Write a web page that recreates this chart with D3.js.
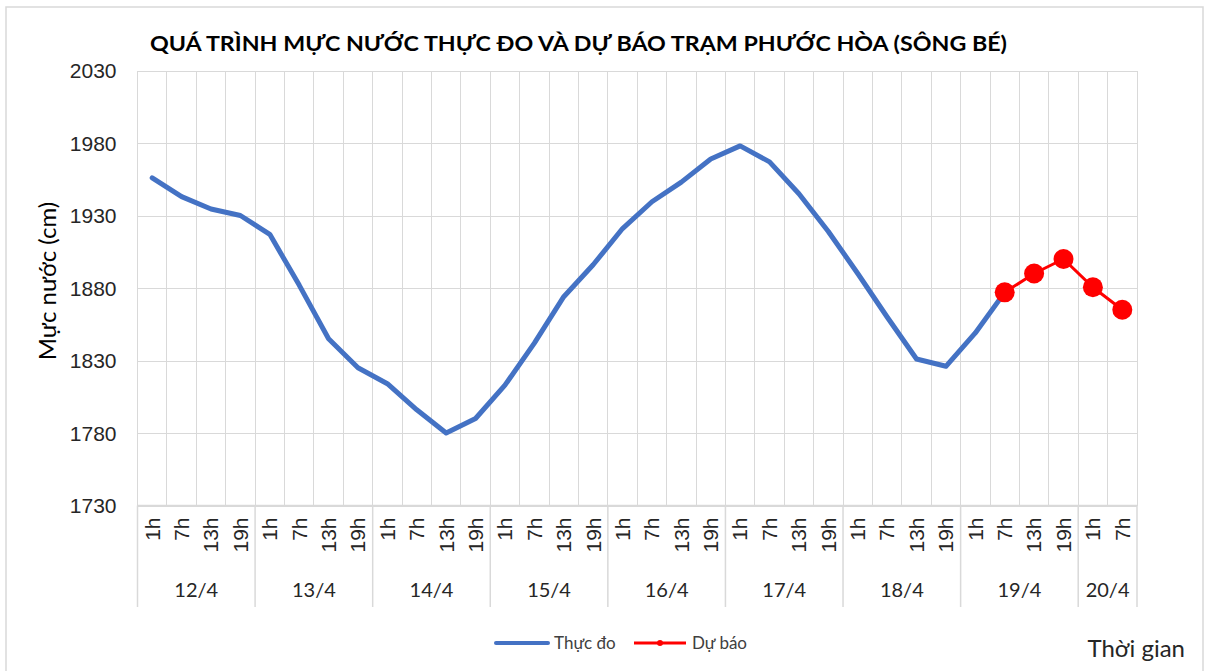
<!DOCTYPE html>
<html>
<head>
<meta charset="utf-8">
<script src="https://cdn.jsdelivr.net/npm/d3@7"></script>
<style>
  body { margin: 0; background: #fff; }
  svg { display: block; font-family: Lato, "Noto Sans", sans-serif; }
  .grid line { stroke: #d9d9d9; stroke-width: 1; shape-rendering: crispEdges; }
  .grid path { display: none; }
  .axis path { display: none; }
  .axis line { display: none; }
  .axis text { fill: #262626; }
</style>
</head>
<body>
<div id="chart"></div>
<script>
// Du lieu muc nuoc tram Phuoc Hoa
var days = ["12/4", "13/4", "14/4", "15/4", "16/4", "17/4", "18/4", "19/4", "20/4"];
var hours = ["1h", "7h", "13h", "19h"];
var hoursLastDay = ["1h", "7h"];
var yTicks = [1730, 1780, 1830, 1880, 1930, 1980, 2030];

// Thuc do: 12/4 1h -> 19/4 7h
var thucDo = [1956, 1943, 1934.5, 1930,
              1917, 1882, 1845, 1825,
              1814, 1796, 1780, 1790,
              1813, 1842, 1874, 1896,
              1921, 1939.5, 1953, 1969,
              1978, 1967, 1945, 1919,
              1890, 1860, 1831, 1826,
              1849, 1877];
// Du bao: 19/4 7h -> 20/4 7h
var duBao = [1877, 1890, 1900, 1880.5, 1865];

var title = "QUÁ TRÌNH MỰC NƯỚC THỰC ĐO VÀ DỰ BÁO TRẠM PHƯỚC HÒA (SÔNG BÉ)";

// danh sach cac moc thoi gian
var cats = [];
days.forEach(function(d, i) {
  var hs = i === days.length - 1 ? hoursLastDay : hours;
  hs.forEach(function(h) { cats.push({ day: d, hour: h, key: d + " " + h }); });
});
var keys = cats.map(function(c) { return c.key; });

var W = 1206, H = 671;
var margin = { top: 70.5, left: 137.5, right: 1137, bottom: 505.5 };

var svg = d3.select("#chart").append("svg")
  .attr("width", W).attr("height", H);

// khung ngoai
svg.append("rect")
  .attr("x", 6).attr("y", 7).attr("width", 1197).attr("height", 680)
  .attr("fill", "none").attr("stroke", "#d9d9d9").attr("stroke-width", 1.5);

var x = d3.scaleBand().domain(keys).range([margin.left, margin.right]).padding(0);
var y = d3.scaleLinear().domain([1730, 2030]).range([margin.bottom, margin.top]);
var cx = function(i) { return x(keys[i]) + x.bandwidth() / 2; };

// luoi doc
svg.append("g").attr("class", "grid")
  .selectAll("line")
  .data(keys.concat(["end"]))
  .enter().append("line")
  .attr("x1", function(k, i) { return i < keys.length ? x(k) : margin.right; })
  .attr("x2", function(k, i) { return i < keys.length ? x(k) : margin.right; })
  .attr("y1", margin.top).attr("y2", margin.bottom);

// luoi ngang
svg.append("g").attr("class", "grid")
  .attr("transform", "translate(" + margin.left + ",0)")
  .call(d3.axisLeft(y).tickValues(yTicks).tickSize(-(margin.right - margin.left)).tickFormat(""));

// truc y
svg.append("g").attr("class", "axis")
  .attr("transform", "translate(" + (margin.left - 21) + ",0)")
  .call(d3.axisLeft(y).tickValues(yTicks).tickSize(0).tickPadding(0).tickFormat(d3.format("d")))
  .selectAll("text").style("font-size", "21px").attr("dy", "0.35em");

// duong truc x
svg.append("line")
  .attr("x1", margin.left).attr("x2", margin.right)
  .attr("y1", margin.bottom).attr("y2", margin.bottom)
  .attr("stroke", "#d9d9d9").attr("stroke-width", 1.5);

// nhan gio (xoay)
svg.append("g").attr("class", "axis")
  .attr("transform", "translate(0," + margin.bottom + ")")
  .call(d3.axisBottom(x).tickSize(0).tickFormat(function(k) { return k.split(" ")[1]; }))
  .selectAll("text")
    .style("font-size", "21px")
    .style("text-anchor", "end")
    .attr("y", 0).attr("x", -12).attr("dy", "0.35em")
    .attr("transform", "rotate(-90)");

// vach ngan ngay
var dayBounds = [];
days.forEach(function(d) {
  var first = keys.indexOf(d + " 1h");
  dayBounds.push(x(keys[first]));
});
dayBounds.push(margin.right);
svg.append("g").selectAll("line")
  .data(dayBounds).enter().append("line")
  .attr("x1", function(d) { return d; }).attr("x2", function(d) { return d; })
  .attr("y1", margin.bottom).attr("y2", 607)
  .attr("stroke", "#d9d9d9").attr("stroke-width", 1.5);

// nhan ngay
svg.append("g").selectAll("text")
  .data(days).enter().append("text")
  .attr("x", function(d, i) { return (dayBounds[i] + dayBounds[i + 1]) / 2; })
  .attr("y", 597)
  .attr("text-anchor", "middle")
  .style("font-size", "20px").attr("fill", "#262626")
  .text(function(d) { return d; });

// duong thuc do
var line = d3.line()
  .x(function(d) { return cx(d.i); })
  .y(function(d) { return y(d.v); });

var tdData = thucDo.map(function(v, i) { return { i: i, v: v }; });
var offset = thucDo.length - 1;
var dbData = duBao.map(function(v, i) { return { i: i + offset, v: v }; });

svg.append("path").datum(tdData)
  .attr("d", line)
  .attr("fill", "none").attr("stroke", "#4472C4")
  .attr("stroke-width", 5).attr("stroke-linejoin", "round").attr("stroke-linecap", "round");

svg.append("path").datum(dbData)
  .attr("d", line)
  .attr("fill", "none").attr("stroke", "#FF0000").attr("stroke-width", 3);

svg.append("g").selectAll("circle")
  .data(dbData).enter().append("circle")
  .attr("cx", function(d) { return cx(d.i); })
  .attr("cy", function(d) { return y(d.v); })
  .attr("r", 10).attr("fill", "#FF0000");

// tieu de
svg.append("text")
  .attr("x", 150).attr("y", 51)
  .attr("textLength", 857).attr("lengthAdjust", "spacingAndGlyphs")
  .style("font-size", "21px").style("font-weight", "bold").attr("fill", "#000")
  .text(title);

// nhan truc y
svg.append("text")
  .attr("transform", "translate(56,281) rotate(-90)")
  .attr("text-anchor", "middle")
  .style("font-size", "24px").attr("fill", "#000")
  .text("Mực nước (cm)");

// Thoi gian
svg.append("text")
  .attr("x", 1185).attr("y", 657)
  .attr("text-anchor", "end")
  .style("font-size", "24px").attr("fill", "#262626")
  .text("Thời gian");

// chu giai
var legend = svg.append("g");
legend.append("line").attr("x1", 496).attr("x2", 548).attr("y1", 643).attr("y2", 643)
  .attr("stroke", "#4472C4").attr("stroke-width", 4).attr("stroke-linecap", "round");
legend.append("text").attr("x", 554).attr("y", 649)
  .style("font-size", "17px").attr("fill", "#404040").text("Thực đo");
legend.append("line").attr("x1", 634).attr("x2", 686).attr("y1", 643).attr("y2", 643)
  .attr("stroke", "#FF0000").attr("stroke-width", 3);
legend.append("circle").attr("cx", 660).attr("cy", 643).attr("r", 3).attr("fill", "#FF0000");
legend.append("text").attr("x", 692).attr("y", 649)
  .style("font-size", "17px").attr("fill", "#404040").text("Dự báo");
</script>
</body>
</html>
